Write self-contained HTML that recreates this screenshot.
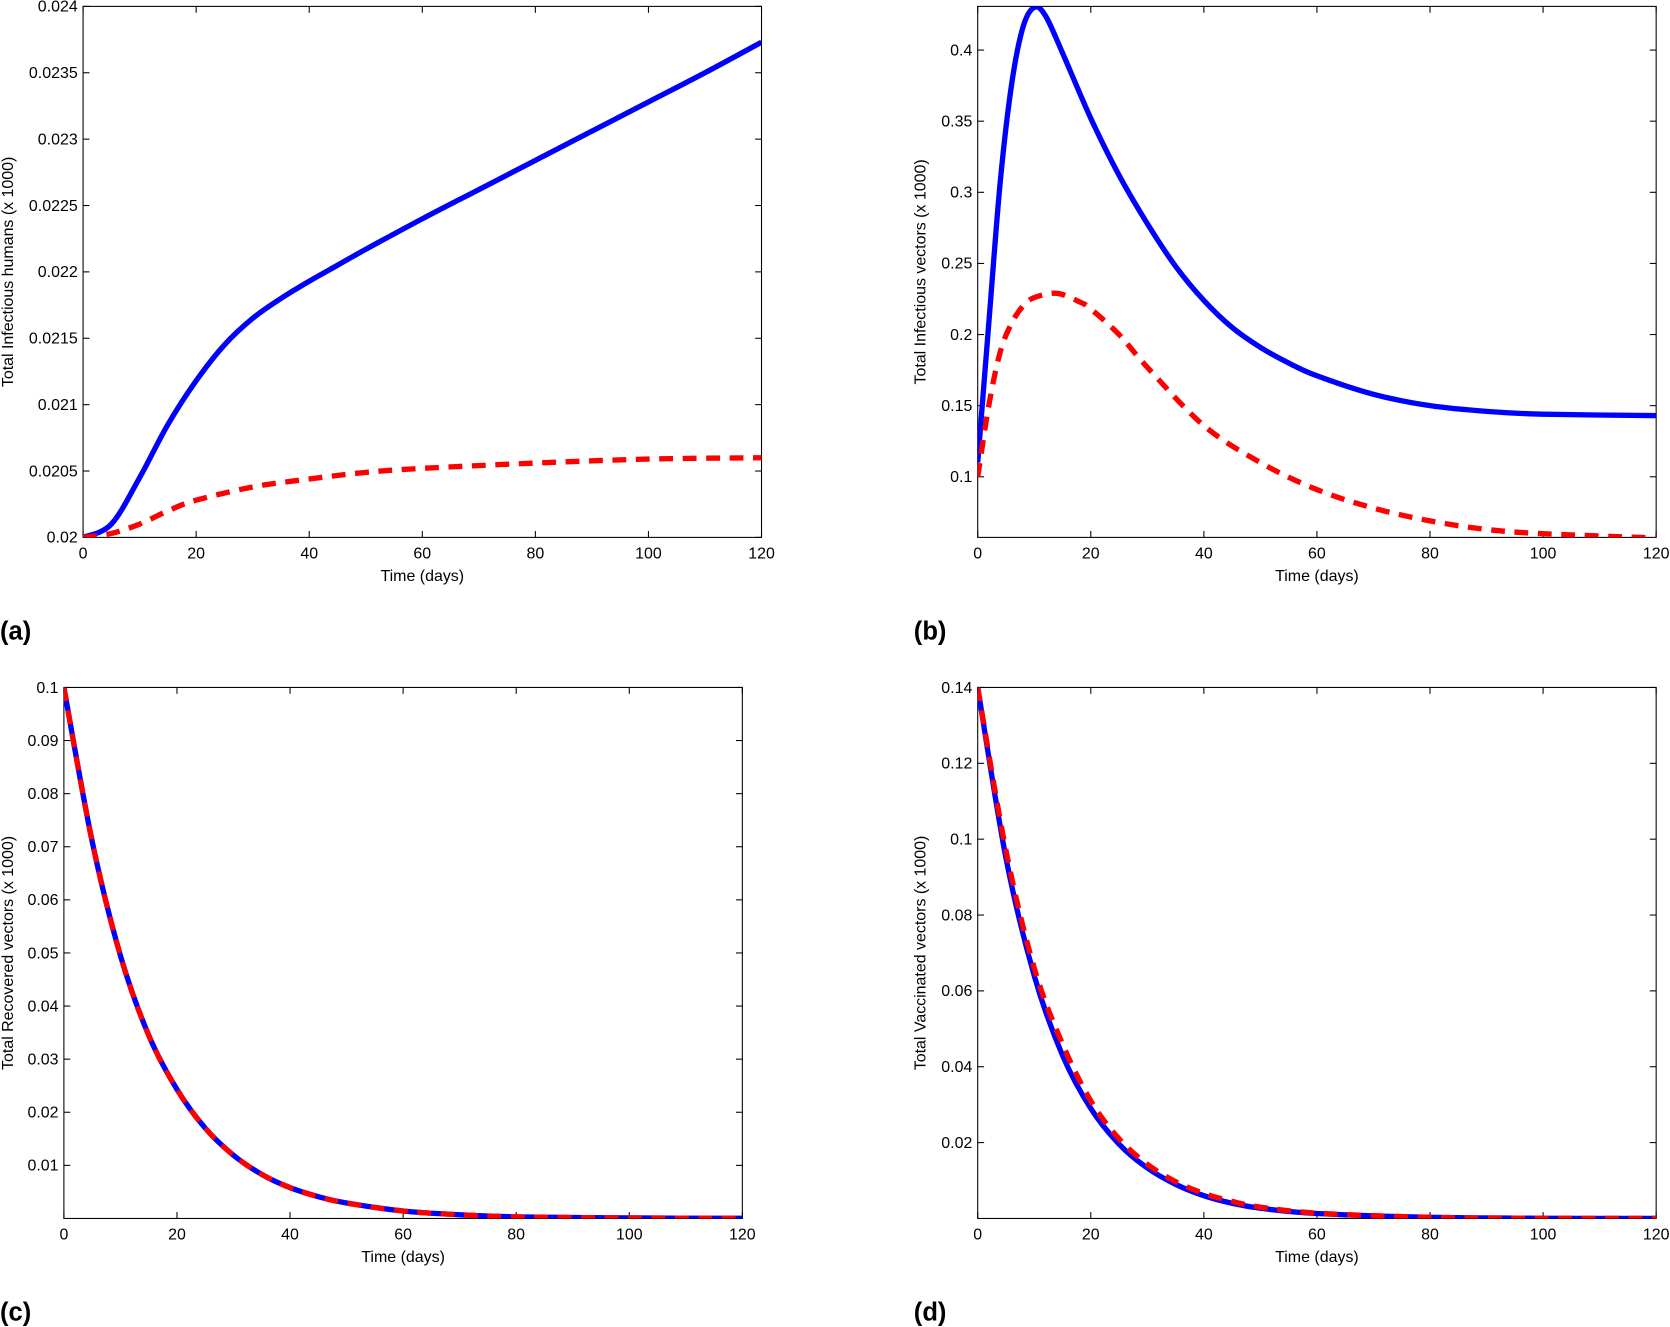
<!DOCTYPE html>
<html><head><meta charset="utf-8"><style>
html,body{margin:0;padding:0;background:#fff;}
svg{display:block;font-family:"Liberation Sans",sans-serif;}
</style></head><body>
<svg id="fig" width="1670" height="1327" viewBox="0 0 1568 1247" preserveAspectRatio="none" xmlns="http://www.w3.org/2000/svg"></svg>
<script>
const timeA=[0,5,10,15,20,25,30,35,40,45,50,60,70,80,90,100,110,120];
const blueA=[0.02,0.0201,0.02045,0.02085,0.02118,0.02145,0.02165,0.0218,0.02193,0.02205,0.02217,0.0224,0.02262,0.02284,0.02306,0.02328,0.0235,0.02373];
const timeA2=[0,5,10,15,20,30,40,50,60,80,100,120];
const redA=[0.02,0.02003,0.0201,0.0202,0.02028,0.02038,0.02044,0.02049,0.02052,0.02056,0.02059,0.0206];
const timeB=[0,2,4,6,8,10,12,15,20,25,30,35,40,45,50,55,60,70,80,90,100,120];
const blueB=[0.11,0.21,0.308,0.376,0.416,0.43,0.424,0.398,0.352,0.312,0.278,0.248,0.224,0.205,0.191,0.18,0.171,0.158,0.15,0.146,0.144,0.143];
const timeB2=[0,2,4,6,8,10,14,18,20,25,30,40,50,60,70,80,90,100,120];
const redB=[0.1,0.151,0.188,0.208,0.22,0.226,0.229,0.223,0.218,0.2,0.177,0.136,0.11,0.091,0.078,0.069,0.063,0.06,0.057];
const timeC=[0,5,10,15,20,25,30,35,40,45,50,60,70,80,100,120];
const blueC=[0.1,0.071,0.0495,0.0345,0.0243,0.017,0.0119,0.0083,0.0058,0.0041,0.0029,0.0014,0.0007,0.0003,0.0001,0.00003];
const redC=[0.1,0.071,0.0495,0.0345,0.0243,0.017,0.0119,0.0083,0.0058,0.0041,0.0029,0.0014,0.0007,0.0003,0.0001,0.00003];
const timeD=[0,5,10,15,20,25,30,35,40,45,50,60,80,100,120];
const blueD=[0.14,0.095,0.064,0.043,0.029,0.0196,0.0133,0.009,0.006,0.004,0.0027,0.0013,0.0003,0.00006,0.00001];
const redD=[0.14,0.097,0.066,0.046,0.031,0.021,0.0143,0.0097,0.0066,0.0045,0.003,0.0014,0.0003,0.00006,0.00001];
const xTicks=[0,20,40,60,80,100,120];
const yTicksA=["0.02","0.0205","0.021","0.0215","0.022","0.0225","0.023","0.0235","0.024"];
const yTicksB=["0.1","0.15","0.2","0.25","0.3","0.35","0.4"];
const yTicksC=["0.01","0.02","0.03","0.04","0.05","0.06","0.07","0.08","0.09","0.1"];
const yTicksD=["0.02","0.04","0.06","0.08","0.1","0.12","0.14"];

const NS="http://www.w3.org/2000/svg";
const svg=document.getElementById('fig');
function mk(tag,attrs,parent){const e=document.createElementNS(NS,tag);for(const k in attrs)e.setAttribute(k,attrs[k]);(parent||svg).appendChild(e);return e;}
function smooth(pts){let d=`M${pts[0][0]},${pts[0][1]}`;for(let i=0;i<pts.length-1;i++){const p0=pts[i-1]||pts[i],p1=pts[i],p2=pts[i+1],p3=pts[i+2]||p2;const c1=[p1[0]+(p2[0]-p0[0])/6,p1[1]+(p2[1]-p0[1])/6],c2=[p2[0]-(p3[0]-p1[0])/6,p2[1]-(p3[1]-p1[1])/6];d+=` C${c1[0]},${c1[1]} ${c2[0]},${c2[1]} ${p2[0]},${p2[1]}`;}return d;}

function panel(cfg){
  const g=mk('g',{});
  
  
  const {x0,x1,y0,y1,ymin,ymax}=cfg;
  const sx=t=>x0+(t/120)*(x1-x0);
  const sy=v=>y1-(v-ymin)/(ymax-ymin)*(y1-y0);
  const r=mk('rect',{x:x0,y:y0,width:x1-x0,height:y1-y0,fill:'#fff',stroke:'#000','stroke-width':1},g);
  
  
  xTicks.forEach(t=>{
    const x=sx(t);
    mk('line',{x1:x,x2:x,y1:y1,y2:y1-6,stroke:'#000'},g);
    mk('line',{x1:x,x2:x,y1:y0,y2:y0+6,stroke:'#000'},g);
    const tx=mk('text',{x:x,y:y1+20,'font-size':15,'text-anchor':'middle'},g);
    tx.textContent=t;
    
    
  });
  cfg.yt.forEach(s=>{
    const y=sy(parseFloat(s));
    mk('line',{x1:x0,x2:x0+6,y1:y,y2:y,stroke:'#000'},g);
    mk('line',{x1:x1,x2:x1-6,y1:y,y2:y,stroke:'#000'},g);
    const tx=mk('text',{x:x0-5,y:y+5,'font-size':15,'text-anchor':'end'},g);
    tx.textContent=s;
    
    
  });
  const xl=mk('text',{x:(x0+x1)/2,y:y1+41,'font-size':15,'text-anchor':'middle'},g);
  xl.textContent='Time (days)';
  
  
  const yl=mk('text',{x:0,y:0,'font-size':15,'text-anchor':'middle',transform:`translate(${cfg.ylx},${(y0+y1)/2}) rotate(-90)`},g);
  yl.textContent=cfg.ylabel;
  
  
  const cp=mk('clipPath',{id:'cp'+cfg.name},g);
  mk('rect',{x:x0,y:y0,width:x1-x0,height:y1-y0},cp);
  const b=mk('path',{d:smooth(cfg.tb.map((t,i)=>[sx(t),sy(cfg.b[i])])),fill:'none',stroke:'#0000ff','stroke-width':5,'clip-path':`url(#cp${cfg.name})`},g);
  
  
  const rd=mk('path',{d:smooth(cfg.tr.map((t,i)=>[sx(t),sy(cfg.r[i])])),fill:'none',stroke:'#ff0000','stroke-width':5,'stroke-dasharray':'13 9','clip-path':`url(#cp${cfg.name})`},g);
  
  
  const pl=mk('text',{x:cfg.plx,y:y1+96,'font-size':24,'font-weight':'bold'},g);
  pl.textContent=cfg.label;
  
  
}
panel({name:'panel-a',label:'(a)',plx:0,x0:78,x1:715,y0:6,y1:505,ymin:0.02,ymax:0.024,yt:yTicksA,ylx:12,ylabel:'Total Infectious humans (x 1000)',tb:timeA,b:blueA,tr:timeA2,r:redA});
panel({name:'panel-b',label:'(b)',plx:858,x0:918,x1:1555,y0:6,y1:505,ymin:0.0574,ymax:0.4307,yt:yTicksB,ylx:869,ylabel:'Total Infectious vectors (x 1000)',tb:timeB,b:blueB,tr:timeB2,r:redB});
panel({name:'panel-c',label:'(c)',plx:0,x0:60,x1:697,y0:646,y1:1145,ymin:0,ymax:0.1,yt:yTicksC,ylx:12,ylabel:'Total Recovered vectors (x 1000)',tb:timeC,b:blueC,tr:timeC,r:redC});
panel({name:'panel-d',label:'(d)',plx:858,x0:918,x1:1555,y0:646,y1:1145,ymin:0,ymax:0.14,yt:yTicksD,ylx:869,ylabel:'Total Vaccinated vectors (x 1000)',tb:timeD,b:blueD,tr:timeD,r:redD});
</script>
</body></html>
